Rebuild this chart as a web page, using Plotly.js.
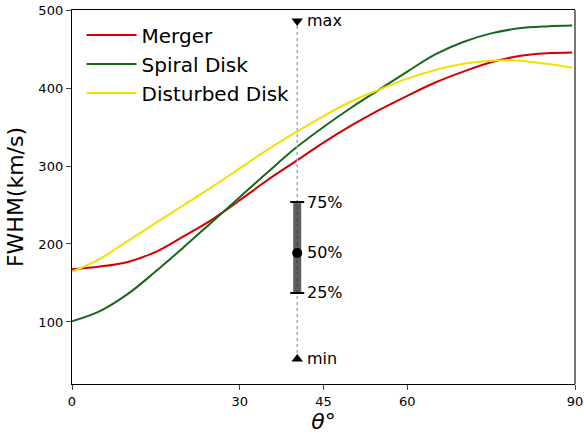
<!DOCTYPE html>
<html>
<head>
<meta charset="utf-8">
<script src="https://cdn.plot.ly/plotly-3.0.1.min.js"></script>
<style>html,body{margin:0;padding:0;background:#fff;}#chart{width:584px;height:434px;}</style>
</head>
<body>
<div id="chart"></div>
<script>
// Data
const theta = [0, 5, 10, 15, 20, 25, 30, 35, 40, 45, 50, 55, 60, 65, 70, 75, 80, 85, 89.5];
const merger = [167.5, 171, 177, 190, 210, 231, 256, 282, 306, 330, 352, 372, 390, 407, 421, 433, 441, 444.5, 445.5];
const spiralDisk = [101, 114, 136, 165, 196, 228, 260, 292, 323, 350, 375, 398, 421, 443, 459, 470, 476.5, 479, 480];
const disturbedDisk = [164.5, 181, 204, 227, 250, 273, 297, 321, 343, 364, 383, 398, 412, 423, 431, 435, 435, 431, 426];
const seriesNames = ['Merger', 'Spiral Disk', 'Disturbed Disk'];
const seriesColors = ['#d40000', '#16691a', '#f2e000'];

// Distribution summary shown at theta = 40.3
const statTheta = 40.3;
const statMin = 52.6, statQ1 = 137.2, statMedian = 188.5, statQ3 = 253.8, statMax = 486;
const statLabels = ['max', '75%', '50%', '25%', 'min'];

const xTicks = [0, 30, 45, 60, 90];
const yTicks = [100, 200, 300, 400, 500];

const font = 'DejaVu Sans, Liberation Sans, sans-serif';
const series = [merger, spiralDisk, disturbedDisk];

const traces = series.map((ys, i) => ({
  x: theta, y: ys, type: 'scatter', mode: 'lines', name: seriesNames[i],
  legendgroup: 'g' + i,
  line: {color: seriesColors[i], width: 2, shape: 'spline', smoothing: 1}
}));

// dotted guide
traces.push({x: [statTheta, statTheta], y: [statMin, statMax], type: 'scatter', mode: 'lines',
  line: {color: '#aaaaaa', width: 1.5, dash: 'dot'}, showlegend: false, hoverinfo: 'skip'});
// IQR bar
traces.push({x: [statTheta, statTheta], y: [statQ1, statQ3], type: 'scatter', mode: 'lines',
  line: {color: 'rgba(40,40,40,0.75)', width: 8}, showlegend: false});
// caps
traces.push({x: [statTheta, statTheta], y: [statQ1, statQ3], type: 'scatter', mode: 'markers',
  marker: {symbol: 'line-ew', size: 10, line: {width: 2, color: '#000'}}, showlegend: false});
// median
traces.push({x: [statTheta], y: [statMedian], type: 'scatter', mode: 'markers',
  marker: {symbol: 'circle', size: 10, color: '#000'}, showlegend: false});
// max / min
traces.push({x: [statTheta], y: [statMax], type: 'scatter', mode: 'markers',
  marker: {symbol: 'triangle-down', size: 10, color: '#000'}, showlegend: false});
traces.push({x: [statTheta], y: [statMin], type: 'scatter', mode: 'markers',
  marker: {symbol: 'triangle-up', size: 10, color: '#000'}, showlegend: false});

const statVals = [statMax, statQ3, statMedian, statQ1, statMin];
const annotations = statLabels.map((t, i) => ({
  x: statTheta, y: statVals[i], xref: 'x', yref: 'y', text: t, showarrow: false,
  xanchor: 'left', yanchor: 'middle', xshift: 8, font: {family: font, size: 16, color: '#000'}
}));

const layout = {
  width: 584, height: 434,
  margin: {l: 72, r: 9, t: 10, b: 50},
  paper_bgcolor: '#fff', plot_bgcolor: '#fff',
  font: {family: font, color: '#000'},
  showlegend: true,
  legend: {x: 0.019, y: 0.985, xanchor: 'left', yanchor: 'top', bgcolor: 'rgba(255,255,255,0)',
    font: {family: font, size: 20, color: '#000'}, traceorder: 'grouped', tracegroupgap: 0, itemwidth: 50},
  xaxis: {range: [0, 90], tickvals: xTicks, ticktext: xTicks.map(String), showgrid: false, zeroline: false,
    showline: true, linecolor: '#000', linewidth: 1.2, mirror: true, ticks: 'outside', ticklen: 5, tickwidth: 1,
    tickfont: {family: font, size: 13}, title: {text: '<i>θ</i>°', font: {family: font, size: 22}, standoff: 4}},
  yaxis: {range: [20.5, 500], tickvals: yTicks, ticktext: yTicks.map(String), showgrid: false, zeroline: false,
    showline: true, linecolor: '#000', linewidth: 1.2, ticks: 'outside', ticklen: 5, tickwidth: 1,
    tickfont: {family: font, size: 13}, title: {text: 'FWHM(km/s)', font: {family: font, size: 22}, standoff: 8}},
  shapes: [{type: 'line', xref: 'paper', yref: 'paper', x0: 1, x1: 1, y0: 0, y1: 1,
    line: {color: '#777', width: 2}}],
  annotations: annotations
};

Plotly.newPlot('chart', traces, layout, {staticPlot: true, displayModeBar: false});
</script>
</body>
</html>
